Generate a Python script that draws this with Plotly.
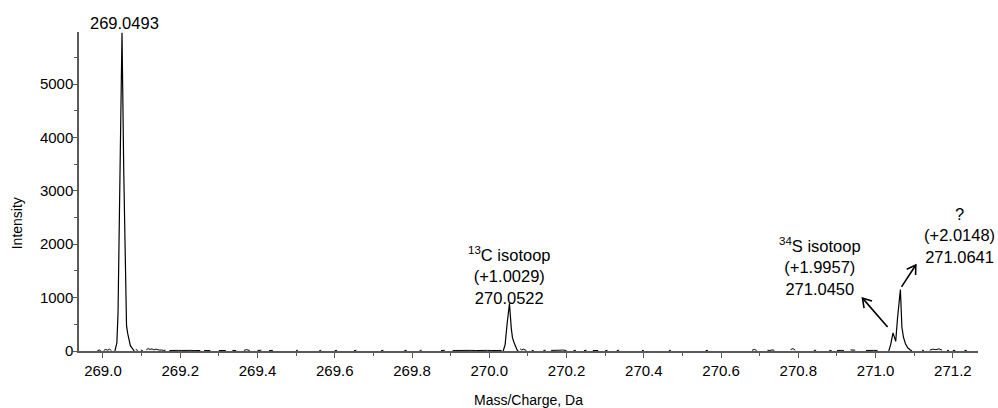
import math
import plotly.graph_objects as go

# ---- Data ----
peak_mz = [269.031, 269.036, 269.039, 269.0435, 269.0493, 269.054, 269.058, 269.061,
           269.064, 269.067, 269.071, 269.075, 269.078, 269.081, None,
           270.036, 270.041, 270.046, 270.0522, 270.057, 270.060, 270.064, 270.068,
           270.072, 270.075, None,
           271.034, 271.039, 271.045, 271.049, 271.052, 271.0565, 271.0641, 271.068,
           271.072, 271.077, 271.083, 271.090, 271.094]
peak_int = [0, 150, 700, 3500, 5960, 3300, 1100, 480,
            330, 240, 100, 60, 20, 0, None,
            0, 120, 500, 890, 420, 250, 160, 70,
            20, 0, None,
            0, 120, 340, 220, 180, 600, 1150, 450,
            260, 140, 60, 20, 0]

noise_mz = [268.985, 268.990, 268.995, None, 269.002, 269.007, 269.012, 269.017, 269.022, None,
            269.085, 269.090, None, 269.098, 269.103, None, 269.112, 269.117, 269.122, 269.127,
            269.132, 269.137, 269.142, 269.147, 269.152, 269.157, 269.162, None,
            269.172, 269.180, 269.188, 269.196, 269.204, 269.212, 269.220, 269.228, 269.236,
            269.244, 269.252, None, 269.262, 269.270, 269.278, None,
            269.300, 269.310, 269.318, None, 269.335, 269.345, None, 269.365, 269.372,
            269.380, None, 269.400, 269.410, None, 269.430, 269.440, None,
            269.500, 269.505, None, 269.560, 269.565, None, 269.600, 269.606, None,
            269.650, 269.656, None, 269.720, 269.726, None, 269.780, 269.786, None,
            269.820, 269.825, None, 269.875, 269.885, None, 269.905, 269.915, 269.925,
            269.935, 269.945, 269.955, 269.965, 269.975, 269.985, 269.995, 270.005,
            270.015, 270.025, 270.032, None,
            270.080, 270.084, 270.088, 270.092, 270.096, None, 270.110, 270.115, None,
            270.140, 270.146, None, 270.160, 270.170, 270.180, 270.190, 270.200, None,
            270.218, 270.224, None, 270.245, 270.252, None, 270.268, 270.275, 270.282,
            None, 270.300, 270.306, None, 270.330, 270.336, None, 270.395, 270.400, None,
            270.465, 270.470, None, 270.560, 270.566, None,
            270.680, 270.686, 270.692, None, 270.720, 270.726, 270.732, 270.738, None,
            270.780, 270.786, 270.792, None, 270.840, 270.846, None, 270.880, 270.886,
            None, 270.900, 270.906, 270.912, 270.918, None, 270.935, 270.941, 270.947,
            None, 270.975, 270.985, 270.995, 271.005, None,
            271.120, 271.125, None, 271.140, 271.148, 271.156, 271.164, 271.172, None,
            271.185, 271.190, None, 271.200, 271.206, None, 271.230, 271.236]
noise_int = [0, 20, 0, None, 10, 30, 15, 35, 5, None,
             30, 10, None, 15, 10, None, 20, 45, 30, 40,
             20, 35, 25, 15, 20, 10, 15, None,
             10, 15, 8, 12, 10, 14, 9, 12, 8,
             12, 10, None, 10, 14, 8, None,
             10, 15, 10, None, 12, 8, None, 12, 25,
             10, None, 10, 15, None, 8, 12, None,
             10, 15, None, 8, 14, None, 10, 12, None,
             8, 14, None, 10, 12, None, 8, 12, None,
             10, 15, None, 8, 14, None, 10, 12, 8,
             14, 10, 12, 8, 14, 10, 12, 10,
             8, 14, 10, None,
             40, 20, 35, 15, 10, None, 12, 8, None,
             10, 15, None, 12, 20, 14, 18, 10, None,
             10, 12, None, 8, 14, None, 10, 14, 10,
             None, 8, 12, None, 10, 14, None, 8, 12, None,
             10, 14, None, 8, 12, None,
             12, 30, 10, None, 14, 10, 20, 12, None,
             25, 45, 15, None, 10, 15, None, 12, 10,
             None, 10, 15, 12, 10, None, 20, 12, 15,
             None, 10, 15, 12, 10, None,
             15, 10, None, 15, 35, 25, 40, 15, None,
             10, 14, None, 12, 10, None, 12, 10]

x_tickvals = [269.0, 269.2, 269.4, 269.6, 269.8, 270.0, 270.2, 270.4, 270.6, 270.8, 271.0, 271.2]
x_ticktext = ["269.0", "269.2", "269.4", "269.6", "269.8", "270.0", "270.2", "270.4",
              "270.6", "270.8", "271.0", "271.2"]
y_tickvals = [0, 1000, 2000, 3000, 4000, 5000]

label_text = ["<sup>13</sup>C isotoop<br>(+1.0029)<br>270.0522",
              "<sup>34</sup>S isotoop<br>(+1.9957)<br>271.0450",
              "?<br>(+2.0148)<br>271.0641"]
label_x = [270.0522, 270.855, 271.218]
label_y = [1420, 1575, 2170]

top_label = "269.0493"
top_label_x = 269.056

arrow_head_x = [270.966, 271.104]
arrow_head_y = [990, 1610]
arrow_tail_x = [271.031, 271.067]
arrow_tail_y = [450, 1200]

X_RANGE = [268.938, 271.265]
Y_RANGE = [0, 5975]
W, H = 998, 408
ML, MR, MT, MB = 79, 20, 32, 57

# ---- Arrow geometry (open V heads) built via the axis scale ----
px_per_x = (W - ML - MR) / (X_RANGE[1] - X_RANGE[0])
px_per_y = (H - MT - MB) / (Y_RANGE[1] - Y_RANGE[0])
arr_x, arr_y = [], []
for hx, hy, tx, ty in zip(arrow_head_x, arrow_head_y, arrow_tail_x, arrow_tail_y):
    dx = (tx - hx) * px_per_x
    dy = (ty - hy) * px_per_y
    ang = math.atan2(dy, dx)
    arm = 10.0
    arr_x += [tx, hx, None]
    arr_y += [ty, hy, None]
    pts_x, pts_y = [], []
    for s in (-1, 1):
        a = ang + s * math.radians(32)
        pts_x.append(hx + arm * math.cos(a) / px_per_x)
        pts_y.append(hy + arm * math.sin(a) / px_per_y)
    arr_x += [pts_x[0], hx, pts_x[1], None]
    arr_y += [pts_y[0], hy, pts_y[1], None]

# ---- Figure ----
FONT = "Liberation Sans, Arial, sans-serif"
AXC = "#5a5a5a"

fig = go.Figure()
fig.add_trace(go.Scatter(x=noise_mz, y=noise_int, mode="lines",
                         line=dict(color="black", width=1), connectgaps=False,
                         hoverinfo="skip", showlegend=False))
fig.add_trace(go.Scatter(x=peak_mz, y=peak_int, mode="lines",
                         line=dict(color="black", width=1.2), connectgaps=False,
                         showlegend=False))
fig.add_trace(go.Scatter(x=arr_x, y=arr_y, mode="lines",
                         line=dict(color="black", width=1.6), connectgaps=False,
                         hoverinfo="skip", showlegend=False, cliponaxis=False))

for t, x, y in zip(label_text, label_x, label_y):
    fig.add_annotation(x=x, y=y, xref="x", yref="y", text=t, showarrow=False,
                       font=dict(family=FONT, size=16.5, color="black"),
                       xanchor="center", yanchor="middle", align="center")

fig.add_annotation(x=top_label_x, y=1.028, xref="x", yref="paper", text=top_label,
                   showarrow=False, font=dict(family=FONT, size=16.5, color="black"),
                   xanchor="center", yanchor="middle")

fig.add_annotation(x=0.5, y=-0.155, xref="paper", yref="paper", yanchor="middle",
                   text="Mass/Charge, Da", showarrow=False,
                   font=dict(family=FONT, size=14, color="black"))
fig.add_annotation(x=-0.068, y=0.40, xref="paper", yref="paper", textangle=-90,
                   text="Intensity", showarrow=False, xanchor="center", yanchor="middle",
                   font=dict(family=FONT, size=14, color="black"))

fig.update_xaxes(range=X_RANGE, tickvals=x_tickvals, ticktext=x_ticktext,
                 ticks="outside", ticklen=5, tickcolor=AXC, tickwidth=1,
                 showline=True, linecolor=AXC, linewidth=1.5, showgrid=False,
                 zeroline=False, tickfont=dict(family=FONT, size=15, color="black"),
                 minor=dict(dtick=0.1, tick0=269.0, ticks="outside", ticklen=3,
                            tickcolor=AXC, showgrid=False))
fig.update_yaxes(range=Y_RANGE, tickvals=y_tickvals,
                 ticks="outside", ticklen=4, tickcolor=AXC, tickwidth=1,
                 ticklabelstandoff=-3,
                 showline=True, linecolor=AXC, linewidth=1.5, showgrid=False,
                 zeroline=False, tickfont=dict(family=FONT, size=15, color="black"),
                 minor=dict(dtick=500, tick0=0, ticks="outside", ticklen=3,
                            tickcolor=AXC, showgrid=False))

fig.update_layout(width=W, height=H, margin=dict(l=ML, r=MR, t=MT, b=MB),
                  plot_bgcolor="white", paper_bgcolor="white",
                  font=dict(family=FONT, color="black"))

fig.write_html("out.html")
